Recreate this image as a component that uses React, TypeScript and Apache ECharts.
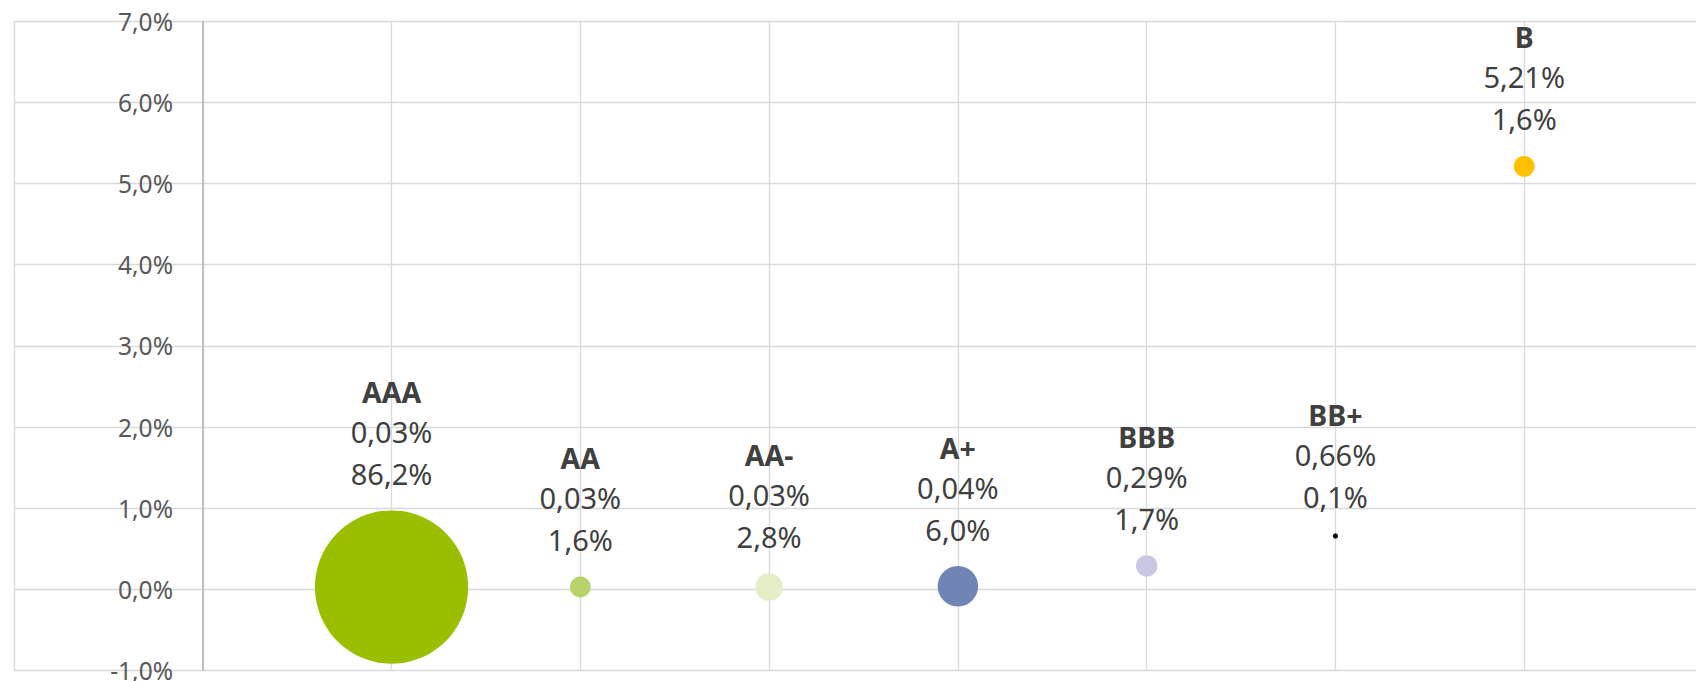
import React, { useEffect, useRef } from "react";
import * as echarts from "echarts";

const ratings = ["AAA", "AA", "AA-", "A+", "BBB", "BB+", "B"];
const xPositions = [1, 2, 3, 4, 5, 6, 7];
const defaultRates = [0.03, 0.03, 0.03, 0.04, 0.29, 0.66, 5.21];
const shares = [86.2, 1.6, 2.8, 6.0, 1.7, 0.1, 1.6];
const colors = ["#99BF00", "#B6D46B", "#E3EEC6", "#7084B6", "#C9C7E3", "#000000", "#FFC000"];
const yMin = -1;
const yMax = 7;
const xMin = -1;
const xMax = 8;
const yAxisCrossX = 0;

const fmt = (v: number, d: number) => v.toFixed(d).replace(".", ",") + "%";

export default function App() {
  const ref = useRef<HTMLDivElement>(null);
  useEffect(() => {
    document.body.style.margin = "0";
    const chart = echarts.init(ref.current!, undefined, { renderer: "svg" });
    const data = ratings.map((r, i) => ({
      name: r,
      value: [xPositions[i], defaultRates[i], shares[i]],
      itemStyle: { color: colors[i], opacity: 1 },
      label: {
        formatter: `{n|${r}}\n{v|${fmt(defaultRates[i], 2)}}\n{v|${fmt(shares[i], 1)}}`,
      },
    }));
    chart.setOption({
      animation: false,
      backgroundColor: "#ffffff",
      grid: {
        left: 14,
        top: 21,
        right: -17,
        bottom: 10.3,
        containLabel: false,
        outerBoundsMode: "none",
      },
      xAxis: {
        type: "value",
        min: xMin,
        max: xMax,
        interval: 1,
        axisLine: { show: false },
        axisTick: { show: false },
        axisLabel: { show: false },
        splitLine: { show: true, lineStyle: { color: "#d9d9d9", width: 1.3 } },
      },
      yAxis: {
        type: "value",
        min: yMin,
        max: yMax,
        interval: 1,
        axisLine: { show: false },
        axisTick: { show: false },
        axisLabel: {
          inside: true,
          align: "right",
          margin: 159,
          color: "#595959",
          fontFamily: "Noto Sans",
          fontSize: 24.5,
          formatter: (v: number) => fmt(v, 1),
        },
        splitLine: { show: true, lineStyle: { color: "#d9d9d9", width: 1.3 } },
      },
      series: [
        {
          type: "scatter",
          data,
          symbolSize: (v: number[]) => 16.5 * Math.sqrt(v[2]),
          label: {
            show: true,
            position: "top",
            distance: 16,
            align: "center",
            rich: {
              n: {
                fontFamily: "Noto Sans",
                fontWeight: "bold",
                fontSize: 28.5,
                color: "#404040",
                lineHeight: 37,
                align: "center",
              },
              v: {
                fontFamily: "Noto Sans",
                fontSize: 29,
                color: "#404040",
                lineHeight: 42,
                align: "center",
              },
            },
          },
          markLine: {
            silent: true,
            symbol: "none",
            label: { show: false },
            lineStyle: { color: "#bfbfbf", width: 2, type: "solid" },
            data: [{ xAxis: yAxisCrossX }],
          },
        },
      ],
    });
    return () => chart.dispose();
  }, []);
  return <div ref={ref} style={{ width: 1696, height: 681 }} />;
}
